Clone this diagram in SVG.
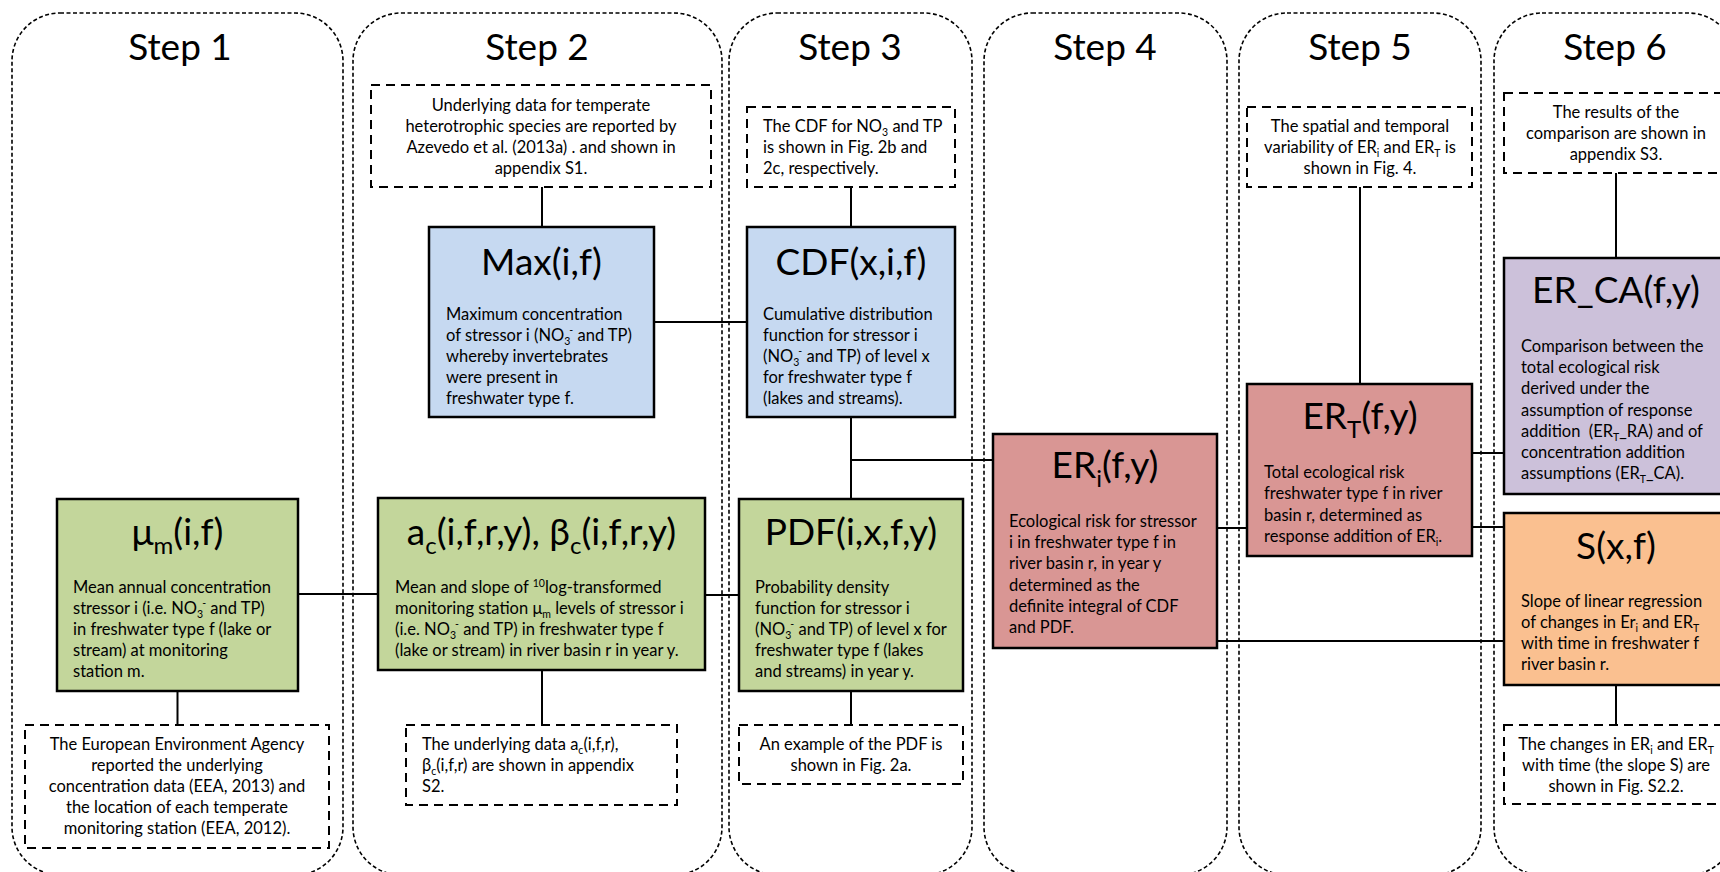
<svg xmlns="http://www.w3.org/2000/svg" width="1720" height="872" viewBox="0 0 1720 872">
<style>
.panel{fill:none;stroke:#000;stroke-width:1.6;stroke-dasharray:4 2.5}
.info{fill:#fff;stroke:#000;stroke-width:2;stroke-dasharray:9 6}
.box{stroke:#000;stroke-width:2.5}
.blue{fill:#c6d9f1}.green{fill:#c3d69b}.red{fill:#d99694}.purple{fill:#ccc1da}.orange{fill:#fac090}
.ln{stroke:#000;stroke-width:2;fill:none}
text{font-family:Lato,"Liberation Sans",sans-serif;fill:#000}
.b{font-size:16.5px}
.h{font-size:37px}
.st{font-size:37px;text-anchor:middle}
.c{text-anchor:middle}
.s{font-size:10.5px}
.hs{font-size:24px}
</style>
<rect width="1720" height="872" fill="#fff"/>
<g id="panels">
<rect class="panel" x="12" y="13" width="331" height="862" rx="48" ry="48"/>
<rect class="panel" x="353" y="13" width="369" height="862" rx="48" ry="48"/>
<rect class="panel" x="729" y="13" width="243" height="862" rx="48" ry="48"/>
<rect class="panel" x="984" y="13" width="243" height="862" rx="48" ry="48"/>
<rect class="panel" x="1239" y="13" width="242" height="862" rx="48" ry="48"/>
<rect class="panel" x="1494" y="13" width="242" height="862" rx="48" ry="48"/>
<text class="st" x="180" y="60">Step 1</text>
<text class="st" x="537" y="60">Step 2</text>
<text class="st" x="850" y="60">Step 3</text>
<text class="st" x="1105" y="60">Step 4</text>
<text class="st" x="1360" y="60">Step 5</text>
<text class="st" x="1615" y="60">Step 6</text>
</g>
<g id="connectors">
<path class="ln" d="M542 187V227"/>
<path class="ln" d="M654 322H747"/>
<path class="ln" d="M851 187V227"/>
<path class="ln" d="M851 417V499"/>
<path class="ln" d="M851 460H993"/>
<path class="ln" d="M298 594H378"/>
<path class="ln" d="M705 595H739"/>
<path class="ln" d="M177.5 691V725"/>
<path class="ln" d="M542 670V725"/>
<path class="ln" d="M851 691V725"/>
<path class="ln" d="M1217 528H1247"/>
<path class="ln" d="M1217 641H1504"/>
<path class="ln" d="M1360 187V384"/>
<path class="ln" d="M1472 453H1504"/>
<path class="ln" d="M1472 527H1504"/>
<path class="ln" d="M1616 173V258"/>
<path class="ln" d="M1616 685V725"/>
</g>
<g id="info2top">
<rect class="info" x="371" y="85" width="340" height="102"/>
<text class="b c" x="541"><tspan x="541" y="111">Underlying data for temperate</tspan><tspan x="541" y="132">heterotrophic species are reported by</tspan><tspan x="541" y="153">Azevedo et al. (2013a) . and shown in</tspan><tspan x="541" y="174">appendix S1.</tspan></text>
</g>
<g id="max">
<rect class="box blue" x="429" y="227" width="225" height="190"/>
<text class="h c" x="541.5" y="275">Max(i,f)</text>
<text class="b" x="446" y="320">Maximum concentration</text>
<text class="b" x="446" y="341">of stressor i (NO<tspan class="s" dy="4">3</tspan><tspan class="s" dx="-1" dy="-11">-</tspan><tspan dy="7"> and TP)</tspan></text>
<text class="b" x="446" y="362">whereby invertebrates</text>
<text class="b" x="446" y="383">were present in</text>
<text class="b" x="446" y="404">freshwater type f.</text>
</g>
<g id="info3top">
<rect class="info" x="747" y="107" width="208" height="80"/>
<text class="b" x="763" y="132">The CDF for NO<tspan class="s" dy="4">3</tspan><tspan dy="-4"> and TP</tspan></text>
<text class="b" x="763" y="153">is shown in Fig. 2b and</text>
<text class="b" x="763" y="174">2c, respectively.</text>
</g>
<g id="cdf">
<rect class="box blue" x="747" y="227" width="208" height="190"/>
<text class="h c" x="851" y="275">CDF(x,i,f)</text>
<text class="b" x="763" y="320">Cumulative distribution</text>
<text class="b" x="763" y="341">function for stressor i</text>
<text class="b" x="763" y="362">(NO<tspan class="s" dy="4">3</tspan><tspan class="s" dx="-1" dy="-11">-</tspan><tspan dy="7"> and TP) of level x</tspan></text>
<text class="b" x="763" y="383">for freshwater type f</text>
<text class="b" x="763" y="404">(lakes and streams).</text>
</g>
<g id="mu">
<rect class="box green" x="57" y="499" width="241" height="192"/>
<text class="h c" x="177.5" y="545">μ<tspan class="hs" dy="9">m</tspan><tspan dy="-9">(i,f)</tspan></text>
<text class="b" x="73" y="593">Mean annual concentration</text>
<text class="b" x="73" y="614">stressor i (i.e. NO<tspan class="s" dy="4">3</tspan><tspan class="s" dx="-1" dy="-11">-</tspan><tspan dy="7"> and TP)</tspan></text>
<text class="b" x="73" y="635">in freshwater type f (lake or</text>
<text class="b" x="73" y="656">stream) at monitoring</text>
<text class="b" x="73" y="677">station m.</text>
</g>
<g id="ac">
<rect class="box green" x="378" y="498" width="327" height="172"/>
<text class="h c" x="541.5" y="545">a<tspan class="hs" dy="9">c</tspan><tspan dy="-9">(i,f,r,y), β</tspan><tspan class="hs" dy="9">c</tspan><tspan dy="-9">(i,f,r,y)</tspan></text>
<text class="b" x="395" y="593">Mean and slope of <tspan class="s" dy="-6">10</tspan><tspan dy="6">log-transformed</tspan></text>
<text class="b" x="395" y="614">monitoring station μ<tspan class="s" dy="4">m</tspan><tspan dy="-4"> levels of stressor i</tspan></text>
<text class="b" x="395" y="635">(i.e. NO<tspan class="s" dy="4">3</tspan><tspan class="s" dx="-1" dy="-11">-</tspan><tspan dy="7"> and TP) in freshwater type f</tspan></text>
<text class="b" x="395" y="656">(lake or stream) in river basin r in year y.</text>
</g>
<g id="pdf">
<rect class="box green" x="739" y="499" width="224" height="192"/>
<text class="h c" x="851" y="545">PDF(i,x,f,y)</text>
<text class="b" x="755" y="593">Probability density</text>
<text class="b" x="755" y="614">function for stressor i</text>
<text class="b" x="755" y="635">(NO<tspan class="s" dy="4">3</tspan><tspan class="s" dx="-1" dy="-11">-</tspan><tspan dy="7"> and TP) of level x for</tspan></text>
<text class="b" x="755" y="656">freshwater type f (lakes</text>
<text class="b" x="755" y="677">and streams) in year y.</text>
</g>
<g id="info1bottom">
<rect class="info" x="25" y="725" width="304" height="123"/>
<text class="b c"><tspan x="177" y="750">The European Environment Agency</tspan><tspan x="177" y="771">reported the underlying</tspan><tspan x="177" y="792">concentration data (EEA, 2013) and</tspan><tspan x="177" y="813">the location of each temperate</tspan><tspan x="177" y="834">monitoring station (EEA, 2012).</tspan></text>
</g>
<g id="info2bottom">
<rect class="info" x="406" y="725" width="271" height="80"/>
<text class="b" x="422" y="750">The underlying data a<tspan class="s" dy="4">c</tspan><tspan dy="-4">(i,f,r),</tspan></text>
<text class="b" x="422" y="771">β<tspan class="s" dy="4">c</tspan><tspan dy="-4">(i,f,r) are shown in appendix</tspan></text>
<text class="b" x="422" y="792">S2.</text>
</g>
<g id="info3bottom">
<rect class="info" x="739" y="725" width="224" height="59"/>
<text class="b c"><tspan x="851" y="750">An example of the PDF is</tspan><tspan x="851" y="771">shown in Fig. 2a.</tspan></text>
</g>
<g id="eri">
<rect class="box red" x="993" y="434" width="224" height="214"/>
<text class="h c" x="1105" y="478">ER<tspan class="hs" dy="9">i</tspan><tspan dy="-9">(f,y)</tspan></text>
<text class="b" x="1009" y="527">Ecological risk for stressor</text>
<text class="b" x="1009" y="548">i in freshwater type f in</text>
<text class="b" x="1009" y="569">river basin r, in year y</text>
<text class="b" x="1009" y="591">determined as the</text>
<text class="b" x="1009" y="612">definite integral of CDF</text>
<text class="b" x="1009" y="633">and PDF.</text>
</g>
<g id="info5top">
<rect class="info" x="1247" y="107" width="225" height="80"/>
<text class="b c"><tspan x="1360" y="132">The spatial and temporal</tspan><tspan x="1360" y="153">variability of ER<tspan class="s" dy="4">i</tspan><tspan dy="-4"> and ER</tspan><tspan class="s" dy="4">T</tspan><tspan dy="-4"> is</tspan></tspan><tspan x="1360" y="174">shown in Fig. 4.</tspan></text>
</g>
<g id="ert">
<rect class="box red" x="1247" y="384" width="225" height="172"/>
<text class="h c" x="1360" y="429">ER<tspan class="hs" dy="9">T</tspan><tspan dy="-9">(f,y)</tspan></text>
<text class="b" x="1264" y="478">Total ecological risk</text>
<text class="b" x="1264" y="499">freshwater type f in river</text>
<text class="b" x="1264" y="521">basin r, determined as</text>
<text class="b" x="1264" y="542">response addition of ER<tspan class="s" dy="4">i</tspan><tspan dy="-4">.</tspan></text>
</g>
<g id="info6top">
<rect class="info" x="1504" y="93" width="224" height="80"/>
<text class="b c"><tspan x="1616" y="118">The results of the</tspan><tspan x="1616" y="139">comparison are shown in</tspan><tspan x="1616" y="160">appendix S3.</tspan></text>
</g>
<g id="erca">
<rect class="box purple" x="1504" y="258" width="224" height="236"/>
<text class="h c" x="1616" y="303">ER_CA(f,y)</text>
<text class="b" x="1521" y="352">Comparison between the</text>
<text class="b" x="1521" y="373">total ecological risk</text>
<text class="b" x="1521" y="394">derived under the</text>
<text class="b" x="1521" y="416">assumption of response</text>
<text class="b" x="1521" y="437" xml:space="preserve">addition  (ER<tspan class="s" dy="4">T</tspan><tspan dy="-4">_RA) and of</tspan></text>
<text class="b" x="1521" y="458">concentration addition</text>
<text class="b" x="1521" y="479">assumptions (ER<tspan class="s" dy="4">T</tspan><tspan dy="-4">_CA).</tspan></text>
</g>
<g id="s">
<rect class="box orange" x="1504" y="513" width="224" height="172"/>
<text class="h c" x="1616" y="559">S(x,f)</text>
<text class="b" x="1521" y="607">Slope of linear regression</text>
<text class="b" x="1521" y="628">of changes in Er<tspan class="s" dy="4">i</tspan><tspan dy="-4"> and ER</tspan><tspan class="s" dy="4">T</tspan></text>
<text class="b" x="1521" y="649">with time in freshwater f</text>
<text class="b" x="1521" y="670">river basin r.</text>
</g>
<g id="info6bottom">
<rect class="info" x="1504" y="725" width="224" height="79"/>
<text class="b c"><tspan x="1616" y="750">The changes in ER<tspan class="s" dy="4">i</tspan><tspan dy="-4"> and ER</tspan><tspan class="s" dy="4">T</tspan></tspan><tspan x="1616" y="771">with time (the slope S) are</tspan><tspan x="1616" y="792">shown in Fig. S2.2.</tspan></text>
</g>
</svg>
